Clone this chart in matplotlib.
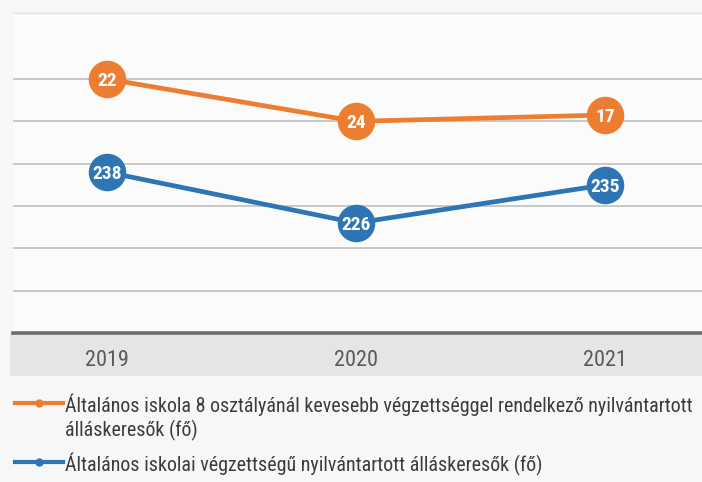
import matplotlib
matplotlib.use('Agg')
import matplotlib.pyplot as plt
from matplotlib import font_manager
from matplotlib.lines import Line2D
from matplotlib.patches import Rectangle

# ---------------- data ----------------
years = ['2019', '2020', '2021']
blue_values = [238, 226, 235]
blue_labels = [238, 226, 235]
# the orange series sits at these heights in the source chart (same scale)
orange_positions = [260, 250, 251.5]
orange_labels = [22, 24, 17]
y_grid = [210, 220, 230, 240, 250, 260]
legend_orange = ['Általános iskola 8 osztályánál kevesebb végzettséggel rendelkező nyilvántartott',
                 'álláskeresők (fő)']
legend_blue = 'Általános iskolai végzettségű nyilvántartott álláskeresők (fő)'

ORANGE = '#ED7D31'
BLUE = '#2E75B6'


def pick(cands):
    for c in cands:
        try:
            font_manager.findfont(font_manager.FontProperties(family=c),
                                  fallback_to_default=False)
            return c
        except Exception:
            pass
    return 'DejaVu Sans'


FONT = pick(['Liberation Sans Narrow', 'Roboto Condensed', 'Open Sans', 'Liberation Sans'])

W, H = 702, 482
fig = plt.figure(figsize=(W / 100, H / 100), dpi=100)
fig.patch.set_facecolor('#f7f7f7')


def fx(px):
    return px / W


def fy(py):
    return (H - py) / H


# gray band below the plot
fig.patches.append(Rectangle((fx(10), fy(376)), fx(W - 10), (376 - 333) / H,
                             transform=fig.transFigure, facecolor='#e5e5e5',
                             edgecolor='none', zorder=-5))

ax = fig.add_axes([fx(13), fy(333), fx(W - 13), (333 - 13) / H])
ax.set_zorder(1)
ax.set_facecolor('#fbfbfb')
ax.set_xlim(-0.378, 2.39)
ax.set_ylim(200, 275.6)

ax.set_yticks(y_grid)
ax.yaxis.grid(True, color='#c4c4c4', lw=1.3)
ax.tick_params(axis='y', left=False, labelleft=False)
for s in ['left', 'right']:
    ax.spines[s].set_visible(False)
ax.spines['top'].set_color('#e2e2e2')
ax.spines['top'].set_linewidth(1.0)
ax.spines['bottom'].set_color('#6e6e6e')
ax.spines['bottom'].set_linewidth(2.6)
ax.set_axisbelow(True)

x = list(range(len(years)))
ax.set_xticks(x, years)
ax.tick_params(axis='x', length=0, pad=12, labelsize=16, labelcolor='#5a5a5a')
for lab in ax.get_xticklabels():
    lab.set_family(FONT)

ax.plot(x, orange_positions, color=ORANGE, lw=3.4, marker='o', ms=26,
        mfc=ORANGE, mec=ORANGE, zorder=3, clip_on=False)
ax.plot(x, blue_values, color=BLUE, lw=3.4, marker='o', ms=26,
        mfc=BLUE, mec=BLUE, zorder=3, clip_on=False)

for xi, yi, lab in zip(x, orange_positions, orange_labels):
    ax.annotate(str(lab), (xi, yi), ha='center', va='center_baseline', color='white',
                fontsize=14, fontweight='bold', family=FONT, zorder=4)
for xi, yi, lab in zip(x, blue_values, blue_labels):
    ax.annotate(str(lab), (xi, yi), ha='center', va='center_baseline', color='white',
                fontsize=14, fontweight='bold', family=FONT, zorder=4)

# ---------------- legend ----------------
for py, col in [(403, ORANGE), (462, BLUE)]:
    fig.add_artist(Line2D([fx(15), fx(63)], [fy(py), fy(py)], transform=fig.transFigure,
                          color=col, lw=3.0))
    fig.add_artist(Line2D([fx(39)], [fy(py)], transform=fig.transFigure, color=col,
                          marker='o', ms=5, mfc=col, mec=col))

TXT = '#3c3c3c'
t1 = fig.text(fx(65), fy(403), legend_orange[0], ha='left', va='center_baseline',
              fontsize=15, color=TXT, family=FONT)
fig.canvas.draw()
r = fig.canvas.get_renderer()
w = t1.get_window_extent(r).width
fs = 15 * 630 / w
t1.set_fontsize(fs)
fig.text(fx(65), fy(428), legend_orange[1], ha='left', va='center_baseline',
         fontsize=fs, color=TXT, family=FONT)
fig.text(fx(65), fy(462), legend_blue, ha='left', va='center_baseline',
         fontsize=fs, color=TXT, family=FONT)

fig.savefig('out.png', dpi=100, facecolor=fig.get_facecolor())
